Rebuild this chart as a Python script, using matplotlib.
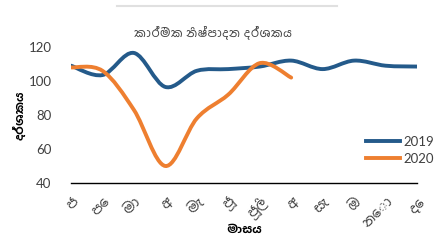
import matplotlib
matplotlib.use("Agg")
import matplotlib.pyplot as plt
from matplotlib import font_manager as fm
from matplotlib.path import Path
from matplotlib.patches import PathPatch
from matplotlib.lines import Line2D

# data
months = ["ජ", "පෙ", "මා", "අ", "මැ", "ජූ", "ජූලි", "අ", "සැ", "ඔ", "නො", "දෙ"]
values_2019 = [109, 103.5, 116.5, 96.5, 106, 107, 108.5, 112, 107, 112, 109, 108.5]
values_2020 = [108, 106, 83, 50, 78, 92, 110.5, 102]
title = "කාර්මික නිෂ්පාදන දර්ශකය"
ylabel = "දර්ශකය"
xlabel = "මාසය"

# Sinhala font (Hind Colombo), registered by file
sin_name = None
for path in fm.findSystemFonts():
    if "HindColombo" in path:
        fm.fontManager.addfont(path)
        sin_name = fm.FontProperties(fname=path).get_name()
families = ["Lato", "DejaVu Sans", sin_name] if sin_name else ["Lato", "DejaVu Sans"]
plt.rcParams["font.family"] = families


def smooth_path(xs, ys):
    # Excel-like smoothed line: cubic bezier through each point
    pts = list(zip(xs, ys))
    verts = [pts[0]]
    codes = [Path.MOVETO]
    n = len(pts)
    for i in range(n - 1):
        p0 = pts[i - 1] if i > 0 else pts[i]
        p1 = pts[i]
        p2 = pts[i + 1]
        p3 = pts[i + 2] if i + 2 < n else pts[i + 1]
        c1 = (p1[0] + (p2[0] - p0[0]) / 6, p1[1] + (p2[1] - p0[1]) / 6)
        c2 = (p2[0] - (p3[0] - p1[0]) / 6, p2[1] - (p3[1] - p1[1]) / 6)
        verts += [c1, c2, p2]
        codes += [Path.CURVE4] * 3
    return Path(verts, codes)


fig = plt.figure(figsize=(4.44, 2.52), dpi=100)
ax = fig.add_axes([71 / 444, 1 - 183 / 252, 346 / 444, 136 / 252])

x19 = list(range(len(values_2019)))
x20 = list(range(len(values_2020)))
c19 = "#245A8A"
c20 = "#EE7F30"
lw = 2.8
ax.add_patch(PathPatch(smooth_path(x19, values_2019), fill=False, edgecolor=c19,
                       lw=lw, capstyle="round"))
ax.add_patch(PathPatch(smooth_path(x20, values_2020), fill=False, edgecolor=c20,
                       lw=lw, capstyle="round"))

ax.set_xlim(0, 11)
ax.set_ylim(40, 120)
ax.set_yticks([40, 60, 80, 100, 120])
ax.set_xticks(range(len(months)))
ax.set_xticklabels(months, rotation=45, ha="right", rotation_mode="anchor")
ax.tick_params(axis="y", length=0, labelsize=9.5, labelcolor="#404040", pad=14)
ax.tick_params(axis="x", length=0, labelsize=10.5, labelcolor="#404040", pad=8)
for s in ["top", "right", "left"]:
    ax.spines[s].set_visible(False)
ax.spines["bottom"].set_color("#000000")
ax.spines["bottom"].set_linewidth(1)

ax.set_ylabel(ylabel, fontsize=8.5, fontweight="bold", labelpad=2)
ax.set_xlabel(xlabel, fontsize=8.5, fontweight="bold", labelpad=-5)
fig.text(213 / 444, 1 - 32 / 252, title, ha="center", va="center",
         fontsize=9, color="#404040")

handles = [Line2D([], [], color=c19, lw=lw), Line2D([], [], color=c20, lw=lw)]
ax.legend(handles, ["2019", "2020"], loc="center left", bbox_to_anchor=(0.853, 0.24),
          frameon=False, fontsize=9.5, handlelength=2.6, handletextpad=0.2,
          labelspacing=0.35, borderaxespad=0, borderpad=0, labelcolor="#404040")

fig.add_artist(Line2D([117 / 444, 337 / 444], [1 - 6 / 252, 1 - 6 / 252],
                      color="#E0E0E0", lw=1.5))

fig.savefig("out.png", dpi=100)
